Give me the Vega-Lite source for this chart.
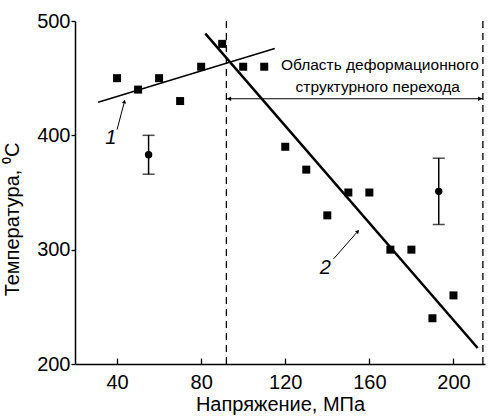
{
  "$schema": "https://vega.github.io/schema/vega-lite/v6.json",
  "width": 410,
  "height": 343,
  "autosize": {"type": "none"},
  "padding": {"left": 75, "top": 21, "right": 3, "bottom": 52},
  "background": "white",
  "config": {
    "view": {"stroke": null},
    "font": "Liberation Sans",
    "axis": {"grid": false, "domainColor": "black", "tickColor": "black", "labelColor": "black", "titleColor": "black", "labelFont": "Liberation Sans", "titleFont": "Liberation Sans", "labelFontSize": 20, "titleFontSize": 20, "titleFontWeight": "normal", "domainWidth": 1.5, "tickWidth": 1.3}
  },
  "layer": [
    {
      "data": {"values": [{"x": 92}, {"x": 214}]},
      "mark": {"type": "rule", "strokeDash": [7, 5], "color": "black", "strokeWidth": 1.3},
      "encoding": {
        "x": {"field": "x", "type": "quantitative", "scale": {"domain": [20, 215], "nice": false, "zero": false},
          "axis": {"values": [40, 80, 120, 160, 200], "title": "Напряжение, МПа", "tickSize": -6, "labelPadding": 14, "titlePadding": 2}},
        "y": {"datum": 200, "type": "quantitative", "scale": {"domain": [200, 500], "nice": false, "zero": false},
          "axis": {"values": [200, 300, 400, 500], "title": "Температура, ⁰C", "tickSize": 4, "labelPadding": 1, "titleX": -53, "titleY": 198}},
        "y2": {"datum": 500}
      }
    },
    {
      "data": {"values": [
        {"x": 40, "y": 450}, {"x": 50, "y": 440}, {"x": 60, "y": 450}, {"x": 70, "y": 430},
        {"x": 80, "y": 460}, {"x": 90, "y": 480}, {"x": 100, "y": 460}, {"x": 110, "y": 460},
        {"x": 120, "y": 390}, {"x": 130, "y": 370}, {"x": 140, "y": 330}, {"x": 150, "y": 350},
        {"x": 160, "y": 350}, {"x": 170, "y": 300}, {"x": 180, "y": 300}, {"x": 190, "y": 240},
        {"x": 200, "y": 260}
      ]},
      "mark": {"type": "point", "shape": "square", "filled": true, "color": "black", "size": 64, "opacity": 1},
      "encoding": {
        "x": {"field": "x", "type": "quantitative"},
        "y": {"field": "y", "type": "quantitative"}
      }
    },
    {
      "data": {"values": [{"x": 31, "y": 429}, {"x": 115, "y": 476}]},
      "mark": {"type": "line", "color": "black", "strokeWidth": 1.5},
      "encoding": {
        "x": {"field": "x", "type": "quantitative"},
        "y": {"field": "y", "type": "quantitative"}
      }
    },
    {
      "data": {"values": [{"x": 82, "y": 489}, {"x": 211.5, "y": 214}]},
      "mark": {"type": "line", "color": "black", "strokeWidth": 2.5},
      "encoding": {
        "x": {"field": "x", "type": "quantitative"},
        "y": {"field": "y", "type": "quantitative"}
      }
    },
    {
      "data": {"values": [{"x": 55, "y": 383, "lo": 366, "hi": 400}, {"x": 193, "y": 351, "lo": 322, "hi": 380}]},
      "layer": [
        {"mark": {"type": "rule", "color": "black", "strokeWidth": 1.5},
          "encoding": {"x": {"field": "x", "type": "quantitative"}, "y": {"field": "lo", "type": "quantitative"}, "y2": {"field": "hi"}}},
        {"mark": {"type": "tick", "orient": "horizontal", "color": "black", "size": 12, "thickness": 1.5},
          "encoding": {"x": {"field": "x", "type": "quantitative"}, "y": {"field": "lo", "type": "quantitative"}}},
        {"mark": {"type": "tick", "orient": "horizontal", "color": "black", "size": 12, "thickness": 1.5},
          "encoding": {"x": {"field": "x", "type": "quantitative"}, "y": {"field": "hi", "type": "quantitative"}}},
        {"mark": {"type": "point", "shape": "circle", "filled": true, "color": "black", "size": 55, "opacity": 1},
          "encoding": {"x": {"field": "x", "type": "quantitative"}, "y": {"field": "y", "type": "quantitative"}}}
      ]
    },
    {
      "data": {"values": [{"x": 92, "y": 432}, {"x": 214, "y": 432}]},
      "mark": {"type": "line", "color": "black", "strokeWidth": 1.2},
      "encoding": {
        "x": {"field": "x", "type": "quantitative"},
        "y": {"field": "y", "type": "quantitative"}
      }
    },
    {
      "data": {"values": [{"x": 93.3, "y": 432, "a": 270}, {"x": 212.7, "y": 432, "a": 90}]},
      "mark": {"type": "point", "shape": "triangle-up", "filled": true, "color": "black", "size": 22, "opacity": 1},
      "encoding": {
        "x": {"field": "x", "type": "quantitative"},
        "y": {"field": "y", "type": "quantitative"},
        "angle": {"field": "a", "type": "quantitative", "scale": null}
      }
    },
    {
      "data": {"values": [
        {"g": "a", "x": 40, "y": 405}, {"g": "a", "x": 43.3, "y": 428},
        {"g": "b", "x": 143, "y": 292}, {"g": "b", "x": 154, "y": 315}
      ]},
      "mark": {"type": "line", "color": "black", "strokeWidth": 1},
      "encoding": {
        "x": {"field": "x", "type": "quantitative"},
        "y": {"field": "y", "type": "quantitative"},
        "detail": {"field": "g"}
      }
    },
    {
      "data": {"values": [{"x": 43.5, "y": 429.5, "a": 13}, {"x": 154.5, "y": 316, "a": 42}]},
      "mark": {"type": "point", "shape": "triangle-up", "filled": true, "color": "black", "size": 18, "opacity": 1},
      "encoding": {
        "x": {"field": "x", "type": "quantitative"},
        "y": {"field": "y", "type": "quantitative"},
        "angle": {"field": "a", "type": "quantitative", "scale": null}
      }
    },
    {
      "data": {"values": [{"x": 37, "y": 398, "t": "1"}, {"x": 139, "y": 284, "t": "2"}]},
      "mark": {"type": "text", "fontSize": 20, "fontStyle": "italic", "color": "black", "baseline": "middle", "align": "center"},
      "encoding": {
        "x": {"field": "x", "type": "quantitative"},
        "y": {"field": "y", "type": "quantitative"},
        "text": {"field": "t"}
      }
    },
    {
      "data": {"values": [{"x": 165, "y": 461.5, "t": "Область деформационного"}, {"x": 164, "y": 442, "t": "структурного перехода"}]},
      "mark": {"type": "text", "fontSize": 15.5, "color": "black", "baseline": "middle", "align": "center"},
      "encoding": {
        "x": {"field": "x", "type": "quantitative"},
        "y": {"field": "y", "type": "quantitative"},
        "text": {"field": "t"}
      }
    }
  ]
}
